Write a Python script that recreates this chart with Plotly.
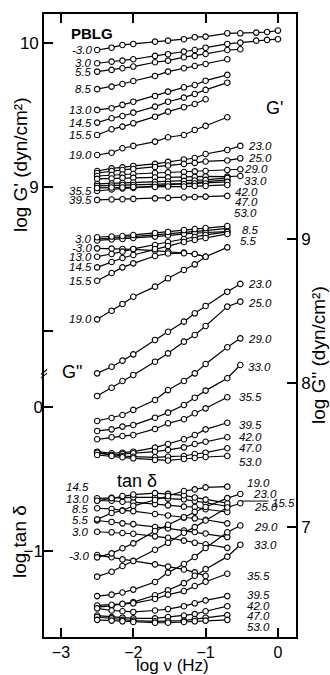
import plotly.graph_objects as go

# ---------------- data (log scale values) ----------------
LOG_NU = [-2.5, -2.3, -2.15, -2.0, -1.7, -1.52, -1.3, -1.15, -1.0, -0.7, -0.52, -0.3, -0.15, 0.0]

TEMPS = ["-3.0", "3.0", "5.5", "8.5", "13.0", "14.5", "15.5", "19.0", "23.0",
         "25.0", "29.0", "33.0", "35.5", "39.5", "42.0", "47.0", "53.0"]

# log G' (dyn/cm2)
GP_Tm3 = [9.953, 9.969, 9.988, 9.995, 10.011, 10.018, 10.028, 10.042, 10.046, 10.069, 10.069, 10.074, 10.078, 10.088]
GP_T3 = [9.861, 9.872, 9.879, 9.889, 9.912, 9.924, 9.942, 9.953, 9.969, 9.995, 10.004, 10.018, 10.023, 10.028]
GP_T5 = [9.803, 9.815, 9.826, 9.838, 9.868, 9.879, 9.903, 9.912, 9.926, 9.953, 9.958]
GP_T8 = [9.681, 9.699, 9.717, 9.738, 9.773, 9.803, 9.826, 9.842, 9.856, 9.889]
GP_T13 = [9.537, 9.549, 9.572, 9.594, 9.634, 9.664, 9.694, 9.710, 9.740, 9.780]
GP_T14 = [9.449, 9.479, 9.495, 9.518, 9.560, 9.594, 9.622, 9.648, 9.676, 9.726]
GP_T15 = [9.363, 9.403, 9.421, 9.444, 9.490, 9.525, 9.556, 9.578, 9.611]
GP_T19 = [9.224, 9.240, 9.271, 9.287, 9.317, 9.347, 9.363, 9.398, 9.426, 9.486]
GP_T23 = [9.113, 9.131, 9.138, 9.148, 9.162, 9.176, 9.193, 9.203, 9.231, 9.259, 9.287]
GP_T25 = [9.099, 9.113, 9.120, 9.127, 9.141, 9.151, 9.162, 9.169, 9.179, 9.186, 9.201]
GP_T29 = [9.078, 9.085, 9.089, 9.092, 9.099, 9.103, 9.106, 9.110, 9.113, 9.120, 9.125]
GP_T33 = [9.058, 9.061, 9.065, 9.065, 9.068, 9.068, 9.072, 9.072, 9.075, 9.074, 9.078]
GP_T35 = [8.974, 8.985, 8.992, 8.995, 9.009, 9.016, 9.023, 9.030, 9.037, 9.051]
GP_T39 = [8.912, 8.915, 8.917, 8.919, 8.923, 8.926, 8.929, 8.932, 8.935, 8.940]
GP_T42 = [9.023, 9.026, 9.030, 9.033, 9.037, 9.040, 9.044, 9.047, 9.051, 9.065]
GP_T47 = [9.009, 9.012, 9.016, 9.016, 9.019, 9.023, 9.023, 9.026, 9.026, 9.037]
GP_T53 = [8.995, 8.998, 8.998, 9.002, 9.002, 9.005, 9.005, 9.009, 9.009, 9.016]

# log G'' (dyn/cm2)
GPP_Tm3 = [8.935, 8.933, 8.931, 8.928, 8.919, 8.912, 8.905, 8.896, 8.877]
GPP_T3 = [9.000, 9.009, 9.012, 9.016, 9.028, 9.035, 9.044, 9.051, 9.058, 9.074]
GPP_T5 = [8.990, 8.997, 9.000, 9.007, 9.017, 9.024, 9.035, 9.042, 9.045, 9.051]
GPP_T8 = [9.012, 9.017, 9.021, 9.028, 9.042, 9.049, 9.062, 9.069, 9.076, 9.090]
GPP_T13 = [8.877, 8.896, 8.912, 8.931, 8.958, 8.979, 9.000, 9.014, 9.028, 9.049]
GPP_T14 = [8.803, 8.840, 8.868, 8.889, 8.931, 8.951, 8.979, 8.993, 9.007, 9.035]
GPP_T15 = [8.710, 8.764, 8.803, 8.831, 8.882, 8.899, 8.901, 8.896, 8.877]
GPP_T19 = [8.442, 8.502, 8.549, 8.599, 8.669, 8.727, 8.785, 8.824, 8.877, 8.942]
GPP_T23 = [8.067, 8.113, 8.155, 8.199, 8.299, 8.356, 8.426, 8.484, 8.535, 8.634, 8.688]
GPP_T25 = [7.910, 7.967, 8.014, 8.056, 8.148, 8.206, 8.287, 8.333, 8.396, 8.530, 8.565]
GPP_T29 = [7.736, 7.757, 7.778, 7.813, 7.882, 7.951, 8.014, 8.067, 8.132, 8.248, 8.310]
GPP_T33 = [7.667, 7.678, 7.697, 7.708, 7.759, 7.794, 7.847, 7.898, 7.947, 8.033, 8.125]
GPP_T35 = [7.609, 7.623, 7.632, 7.639, 7.681, 7.720, 7.748, 7.790, 7.824, 7.901]
GPP_T39 = [7.523, 7.512, 7.516, 7.523, 7.551, 7.576, 7.609, 7.639, 7.678, 7.724]
GPP_T42 = [7.512, 7.500, 7.507, 7.512, 7.523, 7.535, 7.553, 7.576, 7.592, 7.623]
GPP_T47 = [7.516, 7.500, 7.493, 7.488, 7.484, 7.488, 7.493, 7.507, 7.516, 7.547]
GPP_T53 = [7.500, 7.493, 7.484, 7.477, 7.465, 7.462, 7.472, 7.479, 7.486, 7.493]

# log tan delta
TD_Tm3 = [-1.03, -1.045, -1.06, -1.07, -1.095, -1.11, -1.13, -1.15, -1.175]
TD_T3 = [-0.868, -0.872, -0.877, -0.882, -0.90, -0.91, -0.93, -0.945, -0.955, -0.98]
TD_T5 = [-0.79, -0.80, -0.81, -0.815, -0.835, -0.845, -0.86, -0.87, -0.88, -0.905]
TD_T8 = [-0.705, -0.71, -0.72, -0.725, -0.745, -0.755, -0.77, -0.775, -0.785, -0.81]
TD_T13 = [-0.653, -0.653, -0.66, -0.663, -0.676, -0.685, -0.694, -0.696, -0.712, -0.731]
TD_T14 = [-0.636, -0.632, -0.627, -0.629, -0.629, -0.638, -0.643, -0.655, -0.669, -0.691]
TD_T15 = [-0.653, -0.635, -0.62, -0.61, -0.60, -0.605, -0.615, -0.63, -0.645, -0.67]
TD_T19 = [-0.782, -0.738, -0.722, -0.688, -0.648, -0.620, -0.585, -0.574, -0.56, -0.555]
TD_T23 = [-1.046, -1.018, -0.983, -0.949, -0.863, -0.820, -0.767, -0.730, -0.696, -0.635, -0.606]
TD_T25 = [-1.18, -1.146, -1.106, -1.071, -0.993, -0.945, -0.875, -0.836, -0.79, -0.70, -0.67]
TD_T29 = [-1.315, -1.305, -1.29, -1.27, -1.217, -1.152, -1.092, -1.043, -0.981, -0.872, -0.825]
TD_T33 = [-1.391, -1.383, -1.368, -1.357, -1.309, -1.274, -1.225, -1.174, -1.128, -1.041, -0.958]
TD_T35 = [-1.38, -1.375, -1.37, -1.365, -1.335, -1.305, -1.28, -1.245, -1.215, -1.16]
TD_T39 = [-1.40, -1.415, -1.42, -1.425, -1.415, -1.405, -1.385, -1.365, -1.345, -1.315]
TD_T42 = [-1.45, -1.46, -1.465, -1.47, -1.47, -1.46, -1.45, -1.44, -1.42, -1.385]
TD_T47 = [-1.46, -1.47, -1.48, -1.485, -1.49, -1.49, -1.485, -1.475, -1.465, -1.447]
TD_T53 = [-1.48, -1.485, -1.49, -1.495, -1.50, -1.50, -1.495, -1.49, -1.485, -1.48]

GP_SERIES = [GP_Tm3, GP_T3, GP_T5, GP_T8, GP_T13, GP_T14, GP_T15, GP_T19, GP_T23,
             GP_T25, GP_T29, GP_T33, GP_T35, GP_T39, GP_T42, GP_T47, GP_T53]
GPP_SERIES = [GPP_Tm3, GPP_T3, GPP_T5, GPP_T8, GPP_T13, GPP_T14, GPP_T15, GPP_T19, GPP_T23,
              GPP_T25, GPP_T29, GPP_T33, GPP_T35, GPP_T39, GPP_T42, GPP_T47, GPP_T53]
TD_SERIES = [TD_Tm3, TD_T3, TD_T5, TD_T8, TD_T13, TD_T14, TD_T15, TD_T19, TD_T23,
             TD_T25, TD_T29, TD_T33, TD_T35, TD_T39, TD_T42, TD_T47, TD_T53]

# curve labels: (text, x, y) in data coords
GP_LEFT = ["-3.0", "3.0", "5.5", "8.5", "13.0", "14.5", "15.5", "19.0", "35.5", "39.5"]
GP_RIGHT = [("23.0", -0.44, 9.287), ("25.0", -0.44, 9.201), ("29.0", -0.50, 9.125),
            ("33.0", -0.50, 9.046), ("42.0", -0.62, 8.969), ("47.0", -0.62, 8.899),
            ("53.0", -0.64, 8.824)]
GPP_LEFT = ["3.0", "-3.0", "13.0", "14.5", "15.5", "19.0"]
GPP_RIGHT = [("8.5", -0.53, 9.062), ("5.5", -0.55, 8.988), ("23.0", -0.44, 8.688),
             ("25.0", -0.44, 8.558), ("29.0", -0.44, 8.303), ("33.0", -0.44, 8.113),
             ("35.5", -0.57, 7.901), ("39.5", -0.57, 7.708), ("42.0", -0.57, 7.623),
             ("47.0", -0.57, 7.547), ("53.0", -0.57, 7.453)]
TD_LEFT = [("14.5", -0.556), ("13.0", -0.643), ("8.5", -0.713), ("5.5", -0.787),
           ("3.0", -0.868), ("-3.0", -1.037)]
TD_RIGHT = [("19.0", -0.46, -0.532), ("23.0", -0.37, -0.606), ("15.5", -0.11, -0.671),
            ("25.0", -0.36, -0.699), ("29.0", -0.36, -0.833), ("33.0", -0.36, -0.960),
            ("35.5", -0.46, -1.176), ("39.5", -0.46, -1.308), ("42.0", -0.46, -1.384),
            ("47.0", -0.46, -1.454), ("53.0", -0.46, -1.528)]

# ---------------- figure ----------------
FONT = "Liberation Sans, Arial, sans-serif"
LINE = dict(color="black", width=1.2)
MARKER = dict(symbol="circle", size=5.5, color="white", line=dict(color="black", width=1.1))

fig = go.Figure()


def add_curves(series, yaxis):
    for vals in series:
        fig.add_trace(go.Scatter(x=LOG_NU[:len(vals)], y=vals, yaxis=yaxis,
                                 mode="lines+markers", line=LINE, marker=MARKER,
                                 showlegend=False, hoverinfo="skip"))


add_curves(GP_SERIES, "y")
add_curves(GPP_SERIES, "y3")
add_curves(TD_SERIES, "y2")

ann = []
LBL = dict(size=11.5, family=FONT, color="black")


def lab(text, x, y, yref, anchor, xshift=0):
    ann.append(dict(text="<i>" + text + "</i>", x=x, y=y, xref="x", yref=yref,
                    xanchor=anchor, yanchor="middle", showarrow=False, font=LBL,
                    xshift=xshift))


for t in GP_LEFT:
    vals = GP_SERIES[TEMPS.index(t)]
    lab(t, LOG_NU[0], vals[0], "y", "right", -3)
for t, x, y in GP_RIGHT:
    lab(t, x, y, "y", "left")
for t in GPP_LEFT:
    vals = GPP_SERIES[TEMPS.index(t)]
    lab(t, LOG_NU[0], vals[0], "y3", "right", -3)
for t, x, y in GPP_RIGHT:
    lab(t, x, y, "y3", "left")
for t, y in TD_LEFT:
    lab(t, LOG_NU[0], y, "y2", "right", -6)
for t, x, y in TD_RIGHT:
    lab(t, x, y, "y2", "left")


def txt(text, x, y, size=17, angle=0):
    ann.append(dict(text=text, x=x, y=y, xref="paper", yref="paper", showarrow=False,
                    xanchor="center", yanchor="middle", textangle=angle,
                    font=dict(size=size, family=FONT, color="black")))


txt("<b>PBLG</b>", 0.19, 0.9695, size=15)
txt("G'", 0.913, 0.849, size=18)
txt('G"', 0.111, 0.4254, size=18)
txt("tan δ", 0.369, 0.250, size=18)
txt("log G' (dyn/cm²)", -0.095, 0.7576, size=19, angle=-90)
txt("log tan δ", -0.095, 0.1525, size=19, angle=-90)
txt('log G" (dyn/cm²)', 1.087, 0.4526, size=19, angle=-90)
txt("log ν (Hz)", 0.51, -0.0452, size=17)

shapes = [
    # leader line for the 15.5 tan-delta label
    dict(type="line", xref="x", yref="y2", x0=-0.5, x1=-0.13, y0=-0.655, y1=-0.655,
         line=dict(color="black", width=1)),
    # axis break marks on the left axis
    dict(type="line", xref="paper", yref="paper", x0=-0.012, x1=0.012, y0=0.4215, y1=0.4295,
         line=dict(color="black", width=1.2)),
    dict(type="line", xref="paper", yref="paper", x0=-0.012, x1=0.012, y0=0.4155, y1=0.4235,
         line=dict(color="black", width=1.2)),
]

AX = dict(showgrid=False, zeroline=False, ticks="inside", ticklen=9, tickwidth=1.5,
          tickcolor="black", linecolor="black", linewidth=1.6,
          tickfont=dict(size=17, family=FONT, color="black"))

fig.update_layout(
    width=330, height=675,
    margin=dict(l=44, r=34, t=14, b=38),
    paper_bgcolor="white", plot_bgcolor="white",
    xaxis=dict(range=[-3.235, 0.25], tickvals=[-3, -2, -1, 0], showline=True,
               mirror="ticks", **{**AX, "tickfont": dict(size=16, family=FONT, color="black")}),
    yaxis=dict(range=[5.877, 10.203], tickvals=[8, 9, 10], ticktext=["", "9", "10"],
               showline=True, **AX),
    yaxis2=dict(range=[-1.599, 2.727], tickvals=[-1, 0], overlaying="y", side="left",
                showline=False, **AX),
    yaxis3=dict(range=[6.236, 10.5625], tickvals=[7, 8, 9], overlaying="y", side="right",
                showline=True, **AX),
    annotations=ann,
    shapes=shapes,
)

fig.write_html("out.html")
